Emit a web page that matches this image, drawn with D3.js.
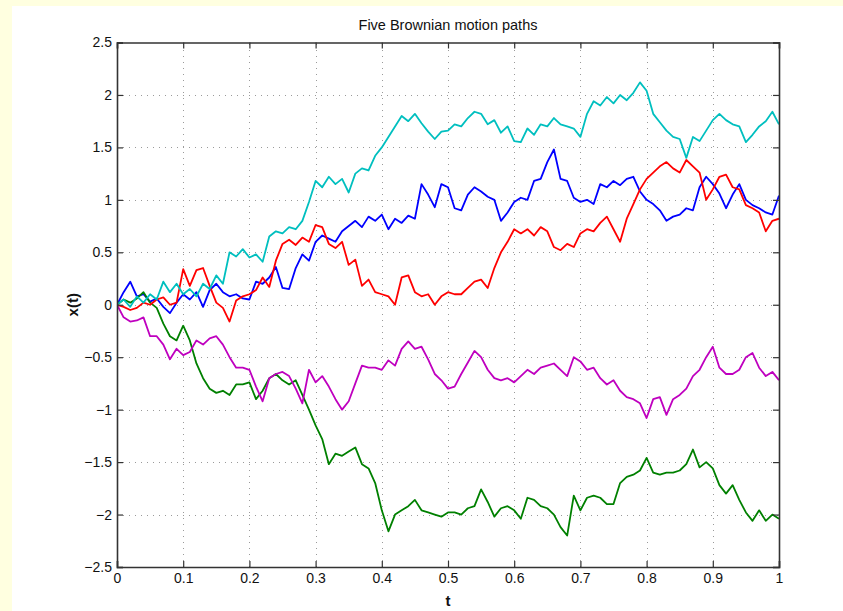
<!DOCTYPE html>
<html><head><meta charset="utf-8">
<script src="https://cdn.jsdelivr.net/npm/d3@7"></script>
<style>html,body{margin:0;padding:0;background:#ffffe0;} svg{display:block;}</style>
</head><body>
<svg id="chart" width="843" height="611"></svg>
<script>
const title = "Five Brownian motion paths";
const xTicks = [0,0.1,0.2,0.3,0.4,0.5,0.6,0.7,0.8,0.9,1];
const yTicks = [-2.5,-2,-1.5,-1,-0.5,0,0.5,1,1.5,2,2.5];
const tValues = d3.range(0,101).map(i => i/100);
const blueValues = [0,0.12,0.22,0.08,0.1,0.03,0.06,-0.02,-0.08,0.02,0.1,0.05,0.12,-0.02,0.14,0.2,0.12,0.08,0.1,0.06,0.05,0.22,0.2,0.26,0.36,0.16,0.15,0.35,0.48,0.42,0.6,0.66,0.63,0.6,0.7,0.75,0.8,0.74,0.84,0.8,0.86,0.72,0.82,0.78,0.85,0.82,1.15,1.05,0.93,1.15,1.12,0.92,0.9,1.05,1.12,1.08,1.03,1.0,0.8,0.88,0.98,1.02,1.0,1.18,1.2,1.36,1.48,1.2,1.18,1.02,0.98,1.0,0.96,1.15,1.12,1.18,1.14,1.2,1.22,1.08,1.0,0.96,0.9,0.8,0.84,0.86,0.92,0.9,1.12,1.22,1.15,1.06,0.92,1.05,1.15,1.0,0.95,0.92,0.88,0.86,1.04];
const greenValues = [0,0.05,0.02,0.06,0.12,0.02,-0.03,-0.18,-0.3,-0.34,-0.2,-0.34,-0.56,-0.7,-0.8,-0.84,-0.82,-0.86,-0.76,-0.76,-0.74,-0.9,-0.82,-0.7,-0.66,-0.72,-0.76,-0.72,-0.86,-1.0,-1.15,-1.28,-1.52,-1.42,-1.44,-1.4,-1.36,-1.52,-1.56,-1.7,-1.96,-2.16,-2.0,-1.96,-1.92,-1.86,-1.96,-1.98,-2.0,-2.02,-1.98,-1.98,-2.0,-1.94,-1.92,-1.76,-1.88,-2.02,-1.94,-1.92,-1.96,-2.04,-1.84,-1.86,-1.92,-1.94,-2.0,-2.12,-2.2,-1.82,-1.96,-1.84,-1.82,-1.84,-1.9,-1.9,-1.7,-1.64,-1.62,-1.58,-1.46,-1.6,-1.62,-1.6,-1.6,-1.58,-1.52,-1.38,-1.55,-1.5,-1.56,-1.72,-1.8,-1.72,-1.86,-1.98,-2.06,-1.96,-2.06,-2.0,-2.04];
const redValues = [0,-0.02,-0.05,-0.03,0.02,0.0,0.05,0.07,0.0,0.02,0.34,0.18,0.33,0.35,0.18,0.02,-0.03,-0.16,0.04,0.08,0.1,0.14,0.26,0.17,0.42,0.58,0.62,0.57,0.64,0.6,0.76,0.74,0.58,0.54,0.6,0.38,0.43,0.18,0.24,0.12,0.1,0.08,0.0,0.26,0.28,0.12,0.08,0.1,0.0,0.08,0.12,0.1,0.1,0.16,0.22,0.24,0.16,0.35,0.5,0.6,0.72,0.68,0.72,0.66,0.74,0.7,0.55,0.52,0.58,0.55,0.68,0.72,0.7,0.78,0.84,0.72,0.6,0.82,0.96,1.1,1.2,1.26,1.32,1.36,1.3,1.26,1.38,1.32,1.26,1.0,1.1,1.22,1.24,1.12,1.1,0.95,0.92,0.88,0.7,0.8,0.82];
const cyanValues = [0,0.05,-0.02,0.08,0.02,0.1,0.05,0.22,0.12,0.2,0.1,0.15,0.08,0.2,0.15,0.28,0.2,0.5,0.46,0.53,0.45,0.48,0.41,0.65,0.7,0.68,0.74,0.72,0.8,0.98,1.18,1.12,1.22,1.15,1.2,1.07,1.25,1.3,1.28,1.42,1.5,1.6,1.7,1.8,1.75,1.82,1.73,1.65,1.58,1.65,1.66,1.72,1.7,1.78,1.84,1.82,1.72,1.76,1.64,1.7,1.56,1.55,1.68,1.62,1.72,1.7,1.78,1.72,1.7,1.68,1.6,1.82,1.94,1.9,1.98,1.92,2.0,1.95,2.02,2.12,2.04,1.82,1.74,1.66,1.6,1.58,1.4,1.6,1.56,1.66,1.76,1.82,1.76,1.72,1.7,1.55,1.62,1.7,1.75,1.84,1.72];
const magentaValues = [0,-0.12,-0.16,-0.15,-0.12,-0.3,-0.3,-0.38,-0.52,-0.42,-0.48,-0.45,-0.34,-0.38,-0.32,-0.3,-0.38,-0.5,-0.6,-0.6,-0.62,-0.78,-0.92,-0.7,-0.66,-0.64,-0.68,-0.8,-0.94,-0.62,-0.74,-0.68,-0.78,-0.9,-1.0,-0.92,-0.75,-0.58,-0.6,-0.6,-0.62,-0.53,-0.58,-0.42,-0.35,-0.42,-0.4,-0.52,-0.66,-0.72,-0.8,-0.78,-0.66,-0.55,-0.44,-0.5,-0.62,-0.7,-0.72,-0.7,-0.74,-0.68,-0.62,-0.66,-0.6,-0.58,-0.56,-0.62,-0.68,-0.5,-0.54,-0.62,-0.6,-0.7,-0.76,-0.72,-0.82,-0.88,-0.9,-0.94,-1.08,-0.9,-0.88,-1.05,-0.9,-0.86,-0.8,-0.68,-0.62,-0.5,-0.4,-0.6,-0.66,-0.66,-0.62,-0.5,-0.46,-0.6,-0.68,-0.64,-0.72];
const seriesNames = ["blue","green","red","cyan","magenta"];
const seriesColors = ["#0000ff","#008000","#ff0000","#00bfbf","#bf00bf"];
const seriesValues = [blueValues, greenValues, redValues, cyanValues, magentaValues];

const svg = d3.select("#chart");
svg.append("rect").attr("x",12).attr("y",6).attr("width",831).attr("height",605).attr("fill","#ffffff");

const L = 117, R = 779, T = 42.5, B = 567;
const x = d3.scaleLinear().domain([0,1]).range([L,R]);
const y = d3.scaleLinear().domain([-2.5,2.5]).range([B,T]);
const font = "'Liberation Sans', Arial, Helvetica, sans-serif";

// grid
const grid = svg.append("g").attr("stroke","#9a9a9a").attr("stroke-width",1).attr("stroke-dasharray","1,5");
grid.selectAll("line.gx").data(xTicks.slice(1,-1)).join("line")
  .attr("x1",d=>Math.round(x(d))+0.5).attr("x2",d=>Math.round(x(d))+0.5).attr("y1",B).attr("y2",T);
grid.selectAll("line.gy").data(yTicks.slice(1,-1)).join("line")
  .attr("y1",d=>Math.round(y(d))+0.5).attr("y2",d=>Math.round(y(d))+0.5).attr("x1",L).attr("x2",R);

// lines
const line = d3.line().x((d,i)=>x(tValues[i])).y(d=>y(d));
svg.append("clipPath").attr("id","clip").append("rect").attr("x",L).attr("y",T).attr("width",R-L).attr("height",B-T);
const lg = svg.append("g").attr("clip-path","url(#clip)");
seriesValues.forEach((vals,k)=>{
  lg.append("path").datum(vals).attr("d",line).attr("fill","none")
    .attr("stroke",seriesColors[k]).attr("stroke-width",1.8).attr("stroke-linejoin","round");
});

// axes (ticks inward, mirrored)
const fmt = d => d3.format("")(d).replace("-","\u2212");
const axB = svg.append("g").attr("transform",`translate(0,${B})`)
  .call(d3.axisBottom(x).tickValues(xTicks).tickSize(-6).tickPadding(6).tickFormat(fmt));
const axT = svg.append("g").attr("transform",`translate(0,${T})`)
  .call(d3.axisTop(x).tickValues(xTicks).tickSize(-6).tickFormat(""));
const axL = svg.append("g").attr("transform",`translate(${L},0)`)
  .call(d3.axisLeft(y).tickValues(yTicks).tickSize(-6).tickPadding(5).tickFormat(fmt));
const axR = svg.append("g").attr("transform",`translate(${R},0)`)
  .call(d3.axisRight(y).tickValues(yTicks).tickSize(-6).tickFormat(""));
[axB,axT,axL,axR].forEach(a=>{
  a.select(".domain").attr("stroke","#333").attr("stroke-width",1.6);
  a.selectAll(".tick line").attr("stroke","#333").attr("stroke-width",1.2);
  a.selectAll("text").attr("font-family",font).attr("font-size",14).attr("fill","#111");
});

svg.append("text").attr("x",(L+R)/2).attr("y",30).attr("text-anchor","middle")
  .attr("font-family",font).attr("font-size",14.5).attr("fill","#111").text(title);
svg.append("text").attr("x",(L+R)/2).attr("y",606).attr("text-anchor","middle")
  .attr("font-family",font).attr("font-size",15).attr("font-weight","bold").attr("fill","#111").text("t");
svg.append("text").attr("transform",`translate(78,${(T+B)/2}) rotate(-90)`).attr("text-anchor","middle")
  .attr("font-family",font).attr("font-size",15).attr("font-weight","bold").attr("fill","#111").text("x(t)");
</script>
</body></html>
